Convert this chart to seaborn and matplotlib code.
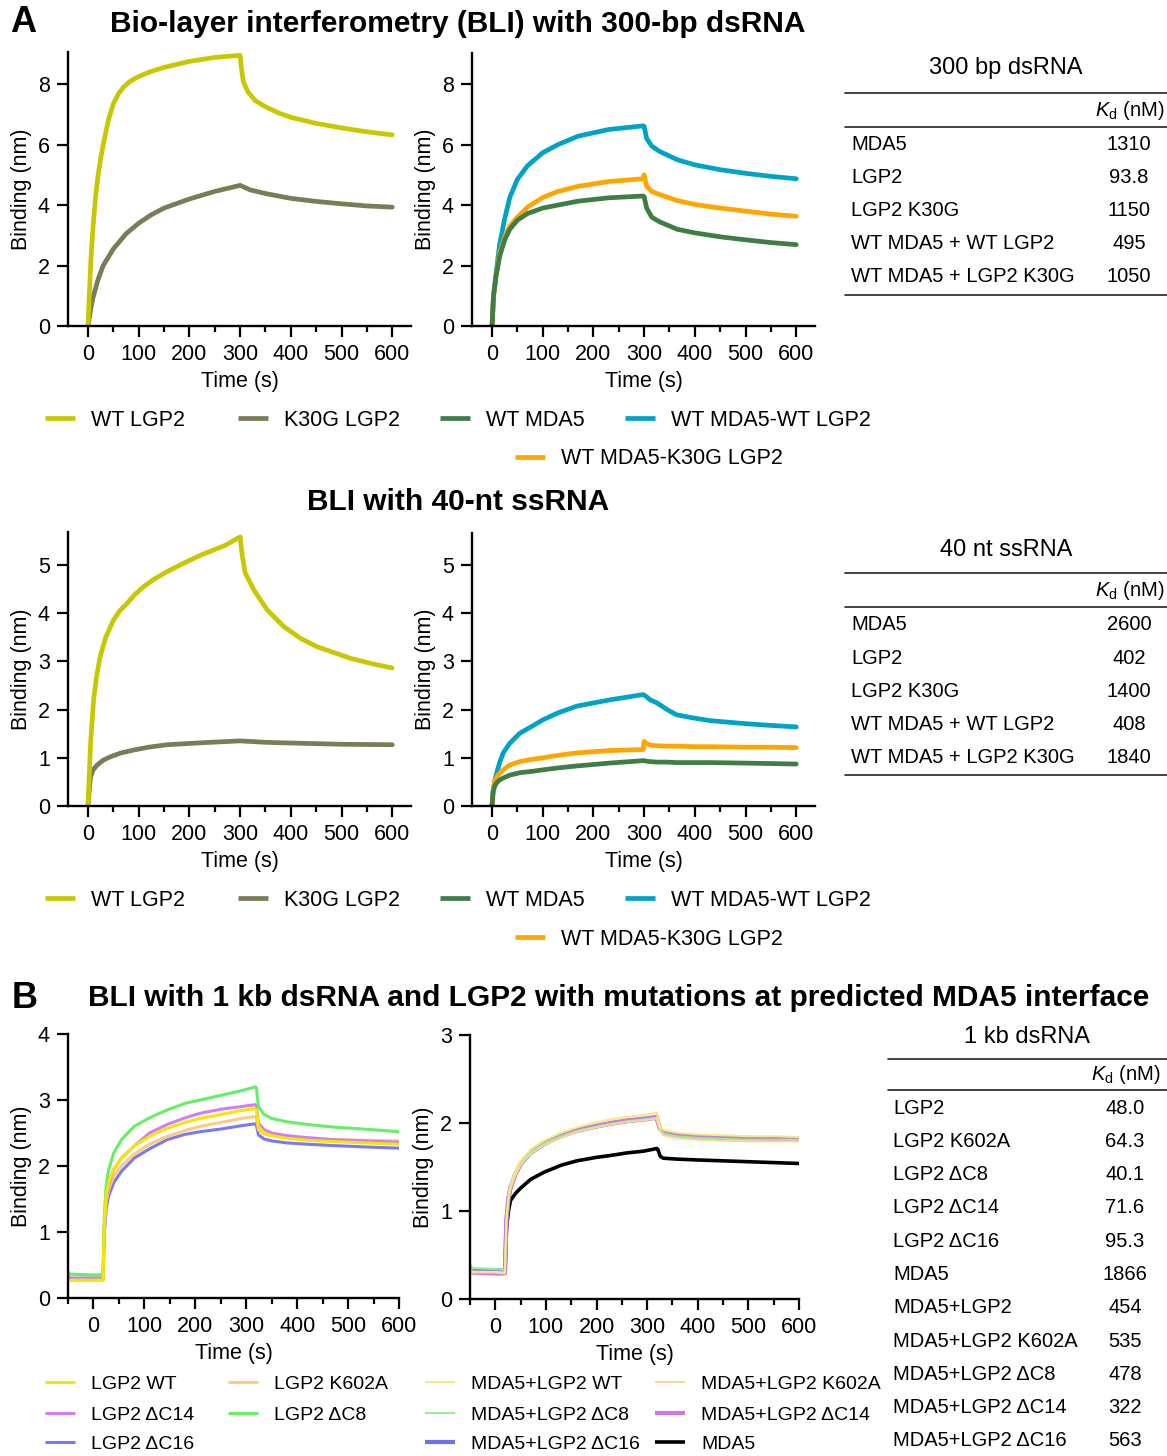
import pandas as pd
import seaborn as sns
import matplotlib.pyplot as plt
from matplotlib.lines import Line2D

sns.set_style("ticks")
plt.rcParams["font.family"] = ["Liberation Sans", "DejaVu Sans"]
plt.rcParams["mathtext.fontset"] = "custom"
plt.rcParams["mathtext.rm"] = "Liberation Sans"
plt.rcParams["mathtext.it"] = "Liberation Sans:italic"
for key in ["text.color", "axes.labelcolor", "xtick.color", "ytick.color", "axes.edgecolor"]:
    plt.rcParams[key] = "black"

W, H = 1167, 1456

# ---------------- data ----------------
# A, 300 bp dsRNA, left panel
t_wt300 = [0, 3, 6, 10, 15, 20, 25, 30, 40, 50, 60, 70, 80, 90, 100, 125, 150, 200, 250, 300,
           302, 306, 315, 330, 350, 375, 400, 450, 500, 550, 600]
wt_lgp2_300 = [0, 1.2, 2.3, 3.3, 4.3, 5.0, 5.55, 6.0, 6.8, 7.35, 7.68, 7.9, 8.05, 8.16, 8.25,
               8.42, 8.55, 8.75, 8.88, 8.95, 8.6, 8.1, 7.75, 7.45, 7.25, 7.05, 6.9, 6.7, 6.55,
               6.42, 6.32]
t_k30g300 = [0, 5, 10, 20, 30, 50, 75, 100, 125, 150, 200, 250, 300, 320, 350, 400, 450,
             500, 550, 600]
k30g_lgp2_300 = [0, 0.55, 0.95, 1.55, 2.0, 2.55, 3.05, 3.4, 3.68, 3.9, 4.2, 4.45, 4.65,
                 4.5, 4.38, 4.22, 4.12, 4.04, 3.97, 3.93]

# A, 300 bp dsRNA, right panel
t_mix300 = [0, 3, 8, 15, 25, 35, 50, 70, 100, 130, 170, 230, 298, 300, 305, 315, 330, 365,
            400, 450, 500, 550, 600]
mda5_wtlgp2_300 = [0, 1.0, 1.75, 2.7, 3.55, 4.25, 4.85, 5.3, 5.73, 6.0, 6.28, 6.5, 6.62, 6.6,
                   6.2, 5.95, 5.78, 5.5, 5.33, 5.17, 5.05, 4.95, 4.87]
mda5_k30g_300 = [0, 1.0, 1.7, 2.4, 2.95, 3.3, 3.6, 3.93, 4.25, 4.45, 4.62, 4.78, 4.87, 5.0,
                 4.62, 4.45, 4.35, 4.15, 4.02, 3.9, 3.8, 3.7, 3.63]
wt_mda5_300 = [0, 1.0, 1.65, 2.3, 2.85, 3.2, 3.5, 3.72, 3.9, 4.0, 4.13, 4.24, 4.3, 4.28,
               3.9, 3.6, 3.45, 3.2, 3.08, 2.95, 2.85, 2.76, 2.69]

# A, 40 nt ssRNA, left panel
t_wt40 = [0, 5, 11, 17, 24, 35, 50, 62, 77, 92, 110, 130, 156, 190, 222, 270, 300, 304, 310,
          327, 353, 386, 420, 452, 518, 560, 600]
wt_lgp2_40 = [0, 1.3, 2.2, 2.7, 3.1, 3.5, 3.85, 4.04, 4.2, 4.38, 4.55, 4.7, 4.86, 5.04, 5.2,
              5.4, 5.58, 5.2, 4.83, 4.48, 4.07, 3.72, 3.47, 3.3, 3.06, 2.95, 2.86]
t_k30g40 = [0, 3, 5, 10, 18, 30, 44, 65, 90, 120, 156, 222, 300, 350, 419, 500, 600]
k30g_lgp2_40 = [0, 0.4, 0.6, 0.75, 0.85, 0.95, 1.02, 1.1, 1.16, 1.22, 1.27, 1.31, 1.35,
                1.32, 1.3, 1.28, 1.27]

# A, 40 nt ssRNA, right panel
t_mix40 = [0, 2, 5, 9, 15, 22, 35, 55, 80, 101, 130, 167, 232, 298, 300, 304, 312, 325,
           345, 364, 400, 430, 496, 550, 600]
mda5_wtlgp2_40 = [0, 0.3, 0.5, 0.68, 0.9, 1.1, 1.3, 1.51, 1.66, 1.79, 1.93, 2.07, 2.2, 2.31,
                  2.3, 2.27, 2.2, 2.14, 2.0, 1.89, 1.82, 1.77, 1.71, 1.67, 1.64]
mda5_k30g_40 = [0, 0.3, 0.5, 0.6, 0.68, 0.75, 0.85, 0.92, 0.97, 1.0, 1.05, 1.1, 1.15, 1.17,
                1.34, 1.3, 1.26, 1.25, 1.24, 1.24, 1.23, 1.23, 1.22, 1.22, 1.21]
wt_mda5_40 = [0, 0.28, 0.4, 0.48, 0.54, 0.58, 0.64, 0.69, 0.72, 0.75, 0.79, 0.83, 0.89, 0.94,
              0.94, 0.93, 0.92, 0.91, 0.91, 0.9, 0.9, 0.9, 0.89, 0.88, 0.87]

# B, 1 kb dsRNA, LGP2 alone
t_b1 = [-50, -45, 0, 19, 21, 25, 30, 40, 55, 80, 110, 145, 180, 210, 250, 290, 318, 320,
        324, 335, 350, 380, 420, 470, 530, 600]
lgp2_wt = [0.27, 0.27, 0.27, 0.27, 1.1, 1.55, 1.75, 1.95, 2.12, 2.3, 2.45, 2.57, 2.66, 2.72,
           2.78, 2.84, 2.87, 2.85, 2.6, 2.5, 2.46, 2.42, 2.39, 2.37, 2.35, 2.33]
lgp2_k602a = [0.28, 0.27, 0.27, 0.27, 1.0, 1.45, 1.65, 1.85, 2.0, 2.18, 2.33, 2.45, 2.54, 2.6,
              2.66, 2.72, 2.75, 2.73, 2.55, 2.48, 2.46, 2.44, 2.42, 2.4, 2.39, 2.38]
lgp2_dc14 = [0.33, 0.3, 0.3, 0.3, 1.05, 1.5, 1.72, 1.95, 2.12, 2.3, 2.5, 2.63, 2.73, 2.8,
             2.86, 2.9, 2.93, 2.9, 2.65, 2.55, 2.5, 2.46, 2.43, 2.4, 2.38, 2.36]
lgp2_dc8 = [0.4, 0.36, 0.35, 0.35, 1.2, 1.7, 1.95, 2.2, 2.4, 2.6, 2.73, 2.85, 2.95, 3.0,
            3.07, 3.14, 3.2, 3.18, 2.9, 2.78, 2.72, 2.67, 2.63, 2.59, 2.56, 2.52]
lgp2_dc16 = [0.33, 0.3, 0.3, 0.3, 0.95, 1.35, 1.55, 1.75, 1.92, 2.12, 2.26, 2.4, 2.48, 2.52,
             2.56, 2.61, 2.64, 2.62, 2.47, 2.41, 2.38, 2.35, 2.33, 2.31, 2.29, 2.27]

# B, 1 kb dsRNA, MDA5 + LGP2
t_b2 = [-50, -45, 0, 19, 22, 26, 30, 40, 50, 70, 96, 130, 161, 200, 227, 260, 293, 319,
        321, 326, 332, 358, 400, 450, 500, 550, 600]
mix_wt = [0.33, 0.31, 0.31, 0.30, 0.92, 1.18, 1.3, 1.46, 1.57, 1.7, 1.8, 1.89, 1.95, 2.01,
          2.04, 2.07, 2.09, 2.12, 2.06, 1.96, 1.92, 1.89, 1.87, 1.86, 1.85, 1.85, 1.84]
mix_k602a = [0.31, 0.3, 0.3, 0.29, 0.88, 1.13, 1.25, 1.41, 1.52, 1.65, 1.75, 1.83, 1.9, 1.95,
             1.98, 2.01, 2.03, 2.05, 2.0, 1.9, 1.86, 1.83, 1.81, 1.8, 1.79, 1.79, 1.79]
mix_dc8 = [0.4, 0.35, 0.34, 0.33, 0.9, 1.15, 1.27, 1.43, 1.54, 1.67, 1.77, 1.85, 1.91, 1.96,
           1.99, 2.02, 2.04, 2.06, 2.01, 1.92, 1.88, 1.85, 1.83, 1.82, 1.81, 1.81, 1.81]
mix_dc14 = [0.36, 0.3, 0.29, 0.29, 0.9, 1.15, 1.27, 1.43, 1.54, 1.67, 1.77, 1.85, 1.92, 1.97,
            2.0, 2.03, 2.05, 2.07, 2.02, 1.93, 1.9, 1.87, 1.85, 1.84, 1.83, 1.82, 1.82]
mix_dc16 = [0.35, 0.33, 0.33, 0.32, 0.89, 1.14, 1.26, 1.42, 1.53, 1.66, 1.76, 1.85, 1.91, 1.96,
            1.99, 2.02, 2.04, 2.06, 2.01, 1.93, 1.89, 1.86, 1.84, 1.83, 1.83, 1.82, 1.82]
mda5_alone = [0.31, 0.31, 0.31, 0.31, 0.8, 1.0, 1.12, 1.2, 1.26, 1.36, 1.44, 1.52, 1.57, 1.61,
              1.63, 1.66, 1.68, 1.71, 1.7, 1.62, 1.6, 1.59, 1.58, 1.57, 1.56, 1.55, 1.54]

# Kd tables
kd_labels_a = ["MDA5", "LGP2", "LGP2 K30G", "WT MDA5 + WT LGP2", "WT MDA5 + LGP2 K30G"]
kd_300bp = ["1310", "93.8", "1150", "495", "1050"]
kd_40nt = ["2600", "402", "1400", "408", "1840"]
kd_labels_b = ["LGP2", "LGP2 K602A", "LGP2 ΔC8", "LGP2 ΔC14", "LGP2 ΔC16", "MDA5",
               "MDA5+LGP2", "MDA5+LGP2 K602A", "MDA5+LGP2 ΔC8", "MDA5+LGP2 ΔC14",
               "MDA5+LGP2 ΔC16"]
kd_1kb = ["48.0", "64.3", "40.1", "71.6", "95.3", "1866", "454", "535", "478", "322", "563"]

# colours
col_a = {"WT LGP2": "#c9c800", "K30G LGP2": "#7b7b55", "WT MDA5": "#3f7d45",
         "WT MDA5-WT LGP2": "#00a3c6", "WT MDA5-K30G LGP2": "#ffa500"}
col_b = {"LGP2 WT": "#f5e600", "LGP2 K602A": "#ffca80", "LGP2 ΔC14": "#d37cf5",
         "LGP2 ΔC8": "#66ee66", "LGP2 ΔC16": "#7878fa",
         "MDA5+LGP2 WT": "#f5eb78", "MDA5+LGP2 K602A": "#ffd494", "MDA5+LGP2 ΔC8": "#90f090",
         "MDA5+LGP2 ΔC14": "#cc77f0", "MDA5+LGP2 ΔC16": "#6e6ef2", "MDA5": "#000000"}
lw_b = {"LGP2 WT": 2.2, "LGP2 K602A": 2.2, "LGP2 ΔC14": 2.2, "LGP2 ΔC8": 2.2, "LGP2 ΔC16": 2.2,
        "MDA5+LGP2 WT": 1.4, "MDA5+LGP2 K602A": 1.4, "MDA5+LGP2 ΔC8": 1.4,
        "MDA5+LGP2 ΔC14": 3.0, "MDA5+LGP2 ΔC16": 3.0, "MDA5": 2.6}


def long_df(series):
    frames = []
    for name, (t, v) in series.items():
        frames.append(pd.DataFrame({"Time": t, "Binding": v, "series": name}))
    return pd.concat(frames, ignore_index=True)


def px_axes(fig, left, top, right, bottom):
    return fig.add_axes([left / W, 1 - bottom / H, (right - left) / W, (bottom - top) / H])


def style_axes(ax, xlim, ylim, yticks, xminor):
    ax.set_xlim(*xlim)
    ax.set_ylim(*ylim)
    ax.set_xticks(range(0, 601, 100))
    ax.set_xticks(xminor, minor=True)
    ax.set_yticks(yticks)
    sns.despine(ax=ax)
    for s in ["left", "bottom"]:
        ax.spines[s].set_linewidth(1.7)
    ax.tick_params(axis="both", which="major", direction="out", width=1.6, length=8,
                   labelsize=15.5, pad=5)
    ax.tick_params(axis="x", which="minor", direction="out", width=1.6, length=4.5)
    ax.tick_params(axis="y", which="minor", left=False)
    ax.set_xlabel("Time (s)", fontsize=15.5, labelpad=4)
    ax.set_ylabel("Binding (nm)", fontsize=15.5, labelpad=4)


def draw(ax, series, palette, widths):
    df = long_df(series)
    sns.lineplot(data=df, x="Time", y="Binding", hue="series", size="series",
                 hue_order=list(series), palette=palette, sizes=widths,
                 estimator=None, sort=False, legend=False, ax=ax)


def add_key(fig, label, color, lw, x, y, size):
    h = Line2D([], [], color=color, lw=lw, solid_capstyle="butt")
    fig.legend(handles=[h], labels=[label], loc="center left",
               bbox_to_anchor=(x / W, 1 - y / H), frameon=False, borderpad=0,
               borderaxespad=0, handlelength=30 / (size * 100 / 72),
               handletextpad=16 / (size * 100 / 72), fontsize=size)


def kd_table(fig, title, labels, values, x0, x1, title_y, r1, r2, hdr_x, hdr_y,
             row0, step, lab_x, val_x, bottom=None):
    fig.text((x0 + x1) / 2 / W, 1 - title_y / H, title, ha="center", va="center", fontsize=17)
    for ry in [r1, r2] + ([bottom] if bottom else []):
        fig.add_artist(Line2D([x0 / W, x1 / W], [1 - ry / H, 1 - ry / H], color="#222222",
                              lw=1.2))
    fig.text(hdr_x / W, 1 - hdr_y / H, r"$K_{\rm d}$ (nM)", ha="right", va="center", fontsize=14.5)
    for i, (lab, val) in enumerate(zip(labels, values)):
        y = 1 - (row0 + i * step) / H
        fig.text(lab_x / W, y, lab, ha="left", va="center", fontsize=14.5)
        fig.text(val_x / W, y, val, ha="center", va="center", fontsize=14.5)


fig = plt.figure(figsize=(W / 100, H / 100), dpi=100)

xminor_a = [50, 150, 250, 350, 450, 550]
xminor_b = [-50, 50, 150, 250, 350, 450, 550]
lw_a = {k: 3.4 for k in col_a}

# ---- A: 300 bp dsRNA ----
ax = px_axes(fig, 68, 52, 411, 326)
draw(ax, {"K30G LGP2": (t_k30g300, k30g_lgp2_300), "WT LGP2": (t_wt300, wt_lgp2_300)},
     col_a, lw_a)
style_axes(ax, (-39.5, 637), (0, 9.06), [0, 2, 4, 6, 8], xminor_a)

ax = px_axes(fig, 472, 53, 815, 326)
draw(ax, {"WT MDA5-WT LGP2": (t_mix300, mda5_wtlgp2_300),
          "WT MDA5-K30G LGP2": (t_mix300, mda5_k30g_300),
          "WT MDA5": (t_mix300, wt_mda5_300)}, col_a, lw_a)
style_axes(ax, (-39.5, 637), (0, 9.03), [0, 2, 4, 6, 8], xminor_a)

# ---- A: 40 nt ssRNA ----
ax = px_axes(fig, 68, 532, 411, 806)
draw(ax, {"K30G LGP2": (t_k30g40, k30g_lgp2_40), "WT LGP2": (t_wt40, wt_lgp2_40)},
     col_a, lw_a)
style_axes(ax, (-39.5, 637), (0, 5.68), [0, 1, 2, 3, 4, 5], xminor_a)

ax = px_axes(fig, 472, 533, 815, 806)
draw(ax, {"WT MDA5-WT LGP2": (t_mix40, mda5_wtlgp2_40),
          "WT MDA5-K30G LGP2": (t_mix40, mda5_k30g_40),
          "WT MDA5": (t_mix40, wt_mda5_40)}, col_a, lw_a)
style_axes(ax, (-39.5, 637), (0, 5.66), [0, 1, 2, 3, 4, 5], xminor_a)

# ---- B: 1 kb dsRNA ----
ax = px_axes(fig, 68, 1034, 399, 1298)
draw(ax, {"LGP2 ΔC16": (t_b1, lgp2_dc16), "LGP2 K602A": (t_b1, lgp2_k602a),
          "LGP2 ΔC14": (t_b1, lgp2_dc14), "LGP2 ΔC8": (t_b1, lgp2_dc8),
          "LGP2 WT": (t_b1, lgp2_wt)}, col_b, lw_b)
style_axes(ax, (-50, 600), (0, 4), [0, 1, 2, 3, 4], xminor_b)

ax = px_axes(fig, 470, 1035, 799, 1299)
draw(ax, {"MDA5": (t_b2, mda5_alone), "MDA5+LGP2 ΔC16": (t_b2, mix_dc16),
          "MDA5+LGP2 ΔC14": (t_b2, mix_dc14), "MDA5+LGP2 ΔC8": (t_b2, mix_dc8),
          "MDA5+LGP2 K602A": (t_b2, mix_k602a), "MDA5+LGP2 WT": (t_b2, mix_wt)},
     col_b, lw_b)
style_axes(ax, (-50, 600), (0, 3), [0, 1, 2, 3], xminor_b)

# ---- titles and panel letters ----
fig.text(10 / W, 1 - 23 / H, "A", fontsize=26, fontweight="bold", va="center")
fig.text(458 / W, 1 - 24 / H, "Bio-layer interferometry (BLI) with 300-bp dsRNA",
         fontsize=21.5, fontweight="bold", ha="center", va="center")
fig.text(458 / W, 1 - 502 / H, "BLI with 40-nt ssRNA",
         fontsize=21.5, fontweight="bold", ha="center", va="center")
fig.text(12 / W, 1 - 998 / H, "B", fontsize=26, fontweight="bold", va="center")
fig.text(88 / W, 1 - 998 / H,
         "BLI with 1 kb dsRNA and LGP2 with mutations at predicted MDA5 interface",
         fontsize=21.5, fontweight="bold", ha="left", va="center")

# ---- legends ----
for y1, y2 in [(420, 459), (900, 939)]:
    for name, x in zip(["WT LGP2", "K30G LGP2", "WT MDA5", "WT MDA5-WT LGP2"], [45, 238, 440, 625]):
        add_key(fig, name, col_a[name], 3.4, x, y1, 15.5)
    add_key(fig, "WT MDA5-K30G LGP2", col_a["WT MDA5-K30G LGP2"], 3.4, 515, y2, 15.5)

key_b = [("LGP2 WT", 45, 1384), ("LGP2 K602A", 228, 1384), ("MDA5+LGP2 WT", 425, 1384),
         ("MDA5+LGP2 K602A", 655, 1384), ("LGP2 ΔC14", 45, 1415), ("LGP2 ΔC8", 228, 1415),
         ("MDA5+LGP2 ΔC8", 425, 1415), ("MDA5+LGP2 ΔC14", 655, 1415),
         ("LGP2 ΔC16", 45, 1444), ("MDA5+LGP2 ΔC16", 425, 1444), ("MDA5", 655, 1444)]
for name, x, y in key_b:
    add_key(fig, name, col_b[name], lw_b[name], x, y, 14)

# ---- Kd tables ----
kd_table(fig, "300 bp dsRNA", kd_labels_a, kd_300bp, 845, 1167, 68, 93, 127, 1164, 110,
         144, 33.1, 851, 1129, bottom=295)
kd_table(fig, "40 nt ssRNA", kd_labels_a, kd_40nt, 845, 1167, 550, 573, 607, 1164, 591,
         625, 33.1, 851, 1129, bottom=775)
kd_table(fig, "1 kb dsRNA", kd_labels_b, kd_1kb, 888, 1167, 1037, 1059, 1090, 1160, 1075,
         1108, 33.3, 893, 1125)

fig.savefig("out.png", dpi=100)
plt.close(fig)
